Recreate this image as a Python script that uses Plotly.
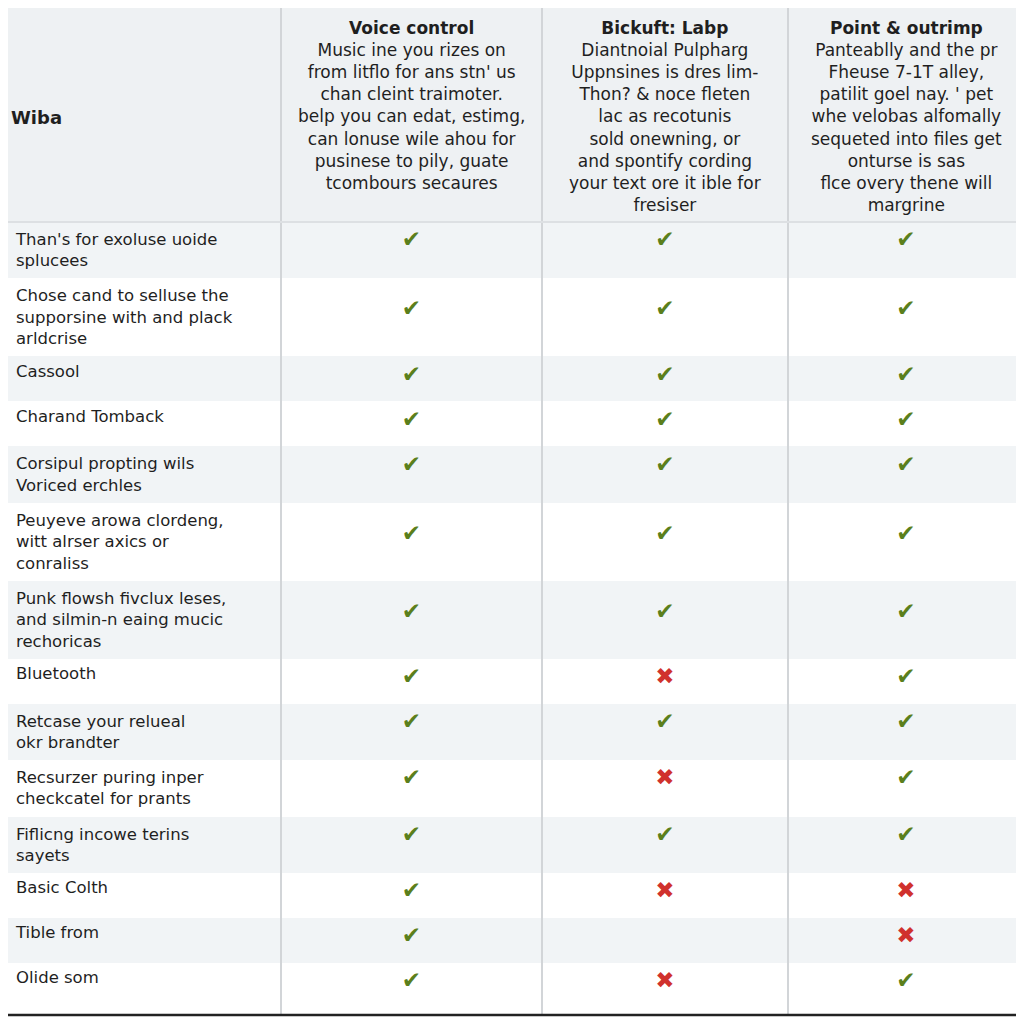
import plotly.graph_objects as go

# header texts
corner_label = "Wiba"
product_names = ["Voice control", "Bickuft: Labp", "Point & outrimp"]
product_blurbs = [
    ["Music ine you rizes on", "from litflo for ans stn' us", "chan cleint traimoter.",
     "belp you can edat, estimg,", "can lonuse wile ahou for", "pusinese to pily, guate",
     "tcombours secaures"],
    ["Diantnoial Pulpharg", "Uppnsines is dres lim-", "Thon? & noce fleten",
     "lac as recotunis", "sold onewning, or", "and spontify cording",
     "your text ore it ible for", "fresiser"],
    ["Panteablly and the pr", "Fheuse 7-1T alley,", "patilit goel nay. ' pet",
     "whe velobas alfomally", "sequeted into files get", "onturse is sas",
     "flce overy thene will", "margrine"],
]

# feature rows
features = [
    "Than's for exoluse uoide<br>splucees",
    "Chose cand to selluse the<br>supporsine with and plack<br>arldcrise",
    "Cassool",
    "Charand Tomback",
    "Corsipul propting wils<br>Voriced erchles",
    "Peuyeve arowa clordeng,<br>witt alrser axics or<br>conraliss",
    "Punk flowsh fivclux leses,<br>and silmin-n eaing mucic<br>rechoricas",
    "Bluetooth",
    "Retcase your relueal<br>okr brandter",
    "Recsurzer puring inper<br>checkcatel for prants",
    "Fiflicng incowe terins<br>sayets",
    "Basic Colth",
    "Tible from",
    "Olide som",
]

# True = supported, False = not supported, None = blank
voice_control = [True, True, True, True, True, True, True, True, True, True, True, True, True, True]
bickuft_labp = [True, True, True, True, True, True, True, False, True, False, True, False, None, False]
point_outrimp = [True, True, True, True, True, True, True, True, True, True, True, False, False, True]

col_widths = [273, 261, 246, 236]

CHECK = "\u2714"
CROSS = "\u2716"
GREEN = "#5b7f1c"
RED = "#d0312d"
TEXT = "#1f1f1f"
GRAY_ROW = "#f1f4f6"
HEADER_BG = "#eef1f3"
SEP = "#d2d5d8"
BODY_FONT = "DejaVu Sans, Arial, sans-serif"

# the page body adds an 8px offset, so the figure covers the visible 1016px
W, H = 1016, 1016
HEADER_H = 214
ROW_H = 45
TABLE_BOTTOM = 1007


def mark(v, label):
    if v is None:
        return ""
    lead = "<br>" * (label.count("<br>") // 2)
    return lead + (CHECK if v else CROSS)


def py(px):
    # pixel offset from the top -> paper y
    return 1 - px / H


products = [voice_control, bickuft_labp, point_outrimp]

cell_vals = [features] + [[mark(v, f) for v, f in zip(p, features)] for p in products]
cell_colors = [[TEXT] * len(features)] + [[GREEN if v else RED for v in p] for p in products]
row_fill = [GRAY_ROW if i % 2 == 0 else "white" for i in range(len(features))]

fig = go.Figure(
    go.Table(
        columnwidth=col_widths,
        domain=dict(x=[0, 1], y=[0, 1]),
        header=dict(
            values=["", "", "", ""],
            fill=dict(color=HEADER_BG),
            line=dict(color="rgba(0,0,0,0)", width=0),
            height=HEADER_H,
        ),
        cells=dict(
            values=cell_vals,
            align=["left", "center", "center", "center"],
            fill=dict(color=[row_fill] * 4),
            line=dict(color="rgba(0,0,0,0)", width=0),
            font=dict(family=BODY_FONT, size=[16.5, 23, 23, 23], color=cell_colors),
            height=ROW_H,
        ),
    )
)

# header text: corner label plus product blurbs, centred line by line
total = sum(col_widths)
annotations = [dict(
    xref="paper", yref="paper", x=1 / total, y=py(109),
    xanchor="left", yanchor="middle", showarrow=False,
    text="<b>" + corner_label + "</b>",
    font=dict(family=BODY_FONT, size=18, color=TEXT),
)]
edge = 0
for i, w in enumerate(col_widths):
    if i > 0:
        name, blurb = product_names[i - 1], product_blurbs[i - 1]
        annotations.append(dict(
            xref="paper", yref="paper",
            x=(edge + w / 2) / total, y=py(8),
            xanchor="center", yanchor="top", align="center", showarrow=False,
            text="<b>" + name + "</b><br>" + "<br>".join(blurb),
            font=dict(family=BODY_FONT, size=17, color=TEXT),
        ))
    edge += w

shapes = []
edge = 0
for w in col_widths[:-1]:
    edge += w
    shapes.append(dict(type="line", xref="paper", yref="paper",
                       x0=edge / total, x1=edge / total,
                       y0=py(TABLE_BOTTOM), y1=1,
                       line=dict(color=SEP, width=2)))
# header bottom rule and closing rule
shapes.append(dict(type="line", xref="paper", yref="paper", x0=0, x1=1,
                   y0=py(HEADER_H), y1=py(HEADER_H),
                   line=dict(color="#dde0e3", width=2)))
shapes.append(dict(type="line", xref="paper", yref="paper", x0=0, x1=1,
                   y0=py(TABLE_BOTTOM), y1=py(TABLE_BOTTOM),
                   line=dict(color="#222222", width=2.5)))

fig.update_layout(
    width=W,
    height=H,
    margin=dict(l=0, r=0, t=0, b=0),
    paper_bgcolor="white",
    annotations=annotations,
    shapes=shapes,
)

fig.write_html("out.html")
